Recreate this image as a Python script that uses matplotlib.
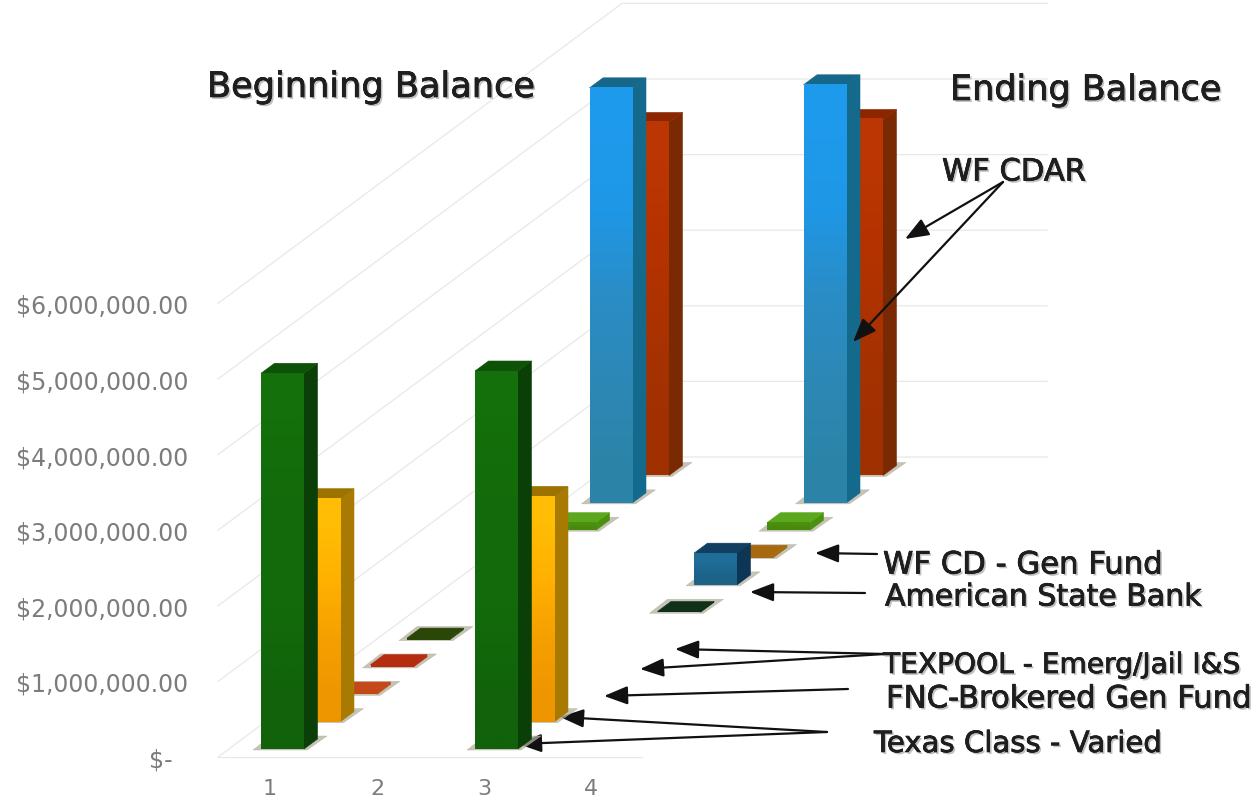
import numpy as np
import matplotlib
matplotlib.use("Agg")
import matplotlib.pyplot as plt
import matplotlib.patheffects as pe
from matplotlib.colors import to_rgb

W, H = 1260, 803
categories = [1, 2, 3, 4]
y_ticks = [0, 1e6, 2e6, 3e6, 4e6, 5e6, 6e6]
y_tick_labels = ["$-  ", "$1,000,000.00", "$2,000,000.00", "$3,000,000.00",
                 "$4,000,000.00", "$5,000,000.00", "$6,000,000.00"]

# values per series over categories 1..4 (series order runs front to back)
texas_class = [4.97e6, 0, 5.00e6, 0]
fnc_brokered = [2.95e6, 0, 2.98e6, 0]
texpool_emerg = [0.03e6, 0, 0, 0]
texpool_jail = [0.03e6, 0, 0, 0]
series_e = [0.02e6, 0, 0, 0]
series_f = [0, 0, 0.01e6, 0]
american_state = [0, 0, 0.42e6, 0]
wf_cd_gen = [0, 0, 0.03e6, 0]
series_i = [0.10e6, 0, 0.10e6, 0]
wf_cdar_a = [5.49e6, 0, 5.53e6, 0]
wf_cdar_b = [4.67e6, 0, 4.71e6, 0]
all_series = [texas_class, fnc_brokered, texpool_emerg, texpool_jail, series_e,
              series_f, american_state, wf_cd_gen, series_i, wf_cdar_a, wf_cdar_b]

# style per series: front gradient stops (top to bottom), side, top
green = (["#14700b", "#136a0a", "#136a0a", "#11620a"], "#0a3f08", "#0d5207")
orange = (["#ffbd05", "#ffb000", "#f5a000", "#ee9600"], "#a87a02", "#9c7200")
brown1 = (["#c24a12", "#c24a12"], "#c24a12", "#c4481a")
red1 = (["#b52c10", "#b52c10"], "#b52c10", "#b52c10")
dk1 = (["#2a4708", "#2a4708"], "#2a4708", "#2a4708")
dk2 = (["#10301a", "#10301a"], "#10301a", "#10301a")
navy = (["#1f6d99", "#1d6388"], "#0c3556", "#123f60")
brown2 = (["#a86a10", "#a86a10"], "#a86a10", "#a86a10")
lime = (["#4c9010", "#468a0e"], "#4c9010", "#5ba71e")
blue = (["#1e9aec", "#1f97e6", "#2a8dc6", "#2d88b6", "#2b84a8"], "#146a8c", "#15688a")
red2 = (["#bb3602", "#b43200", "#a83200", "#a03000"], "#7a2a02", "#8c2600")
styles = [green, orange, brown1, red1, dk1, dk2, navy, brown2, lime, blue, red2]

PX_X = 107.0      # px per category
PX_Y = 75.6e-6    # px per dollar
FLOOR, LEFT, RIGHT, TOP = 758, 218, 1047, 3
BAR_W, OFF_X = 43, -9
STEP_X, STEP_Y = 36.5, 27.35
BOX_X, BOX_Y = 13.5, 10
BASE_LIFT = 8
WALL_X, WALL_Y = 404, 300
GRID = "#e8e8e8"

fig = plt.figure(figsize=(W / 100, H / 100), dpi=100, facecolor="white")
ax = fig.add_axes([LEFT / W, 1 - FLOOR / H, (RIGHT - LEFT) / W, (FLOOR - TOP) / H])
ax.set_xlim(1 + (LEFT - 270) / PX_X, 1 + (RIGHT - 270) / PX_X)
ax.set_ylim(0, (FLOOR - TOP) / PX_Y)
for s in ax.spines.values():
    s.set_visible(False)
ax.patch.set_alpha(0)
ax.set_xticks(categories)
ax.set_yticks(y_ticks)
ax.set_yticklabels(y_tick_labels)
ax.tick_params(length=0, labelcolor="#7c7c7c")
ax.tick_params(axis="y", pad=21.6, labelsize=17)
ax.tick_params(axis="x", pad=15, labelsize=16)

def dx(px):
    return px / PX_X

def dy(px):
    return px / PX_Y

x_lo = 1 + (LEFT - 270) / PX_X
# walls and floor
for v in y_ticks:
    ax.plot([x_lo, x_lo + dx(WALL_X), x_lo + dx(RIGHT - LEFT)],
            [v, v + dy(WALL_Y), v + dy(WALL_Y)], color=GRID, lw=0.9, zorder=1, clip_on=False)
ax.plot([x_lo, x_lo + dx(424)], [0, 0], color=GRID, lw=0.9, zorder=1, clip_on=False)

def poly(pts, color, z, alpha=1.0):
    xs, ys = zip(*pts)
    ax.fill(xs, ys, color=color, lw=0.4, zorder=z, alpha=alpha, clip_on=False)

for si in range(len(all_series) - 1, -1, -1):
    stops, side, top = styles[si]
    for ci in range(len(categories) - 1, -1, -1):
        val = all_series[si][ci]
        if val <= 0:
            continue
        z = 10 + (len(all_series) - si) * 5 + (4 - ci)
        x0 = categories[ci] + dx(OFF_X + si * STEP_X)
        y0 = dy(BASE_LIFT + si * STEP_Y)
        x1 = x0 + dx(BAR_W)
        yt = y0 + val
        bx, by = dx(BOX_X), dy(BOX_Y)
        # floor shadow
        poly([(x0 - dx(8), y0 - dy(1)), (x1 + dx(3), y0 - dy(1)),
              (x1 + dx(23), y0 + dy(13)), (x0 + dx(10), y0 + dy(13))], "#b3af9f", z, 0.75)
        # side and top
        poly([(x1, y0), (x1 + bx, y0 + by), (x1 + bx, yt + by), (x1, yt)], side, z + 0.1)
        poly([(x0, yt), (x1, yt), (x1 + bx, yt + by), (x0 + bx, yt + by)], top, z + 0.1)
        # front with vertical gradient
        rgb = np.array([to_rgb(c) for c in stops])[:, None, :]
        ax.imshow(rgb, extent=(x0, x1, y0, yt), aspect="auto", origin="upper",
                  interpolation="bilinear", zorder=z + 0.2, clip_on=False)

ax.set_xlim(1 + (LEFT - 270) / PX_X, 1 + (RIGHT - 270) / PX_X)
ax.set_ylim(0, (FLOOR - TOP) / PX_Y)

shadow = [pe.withSimplePatchShadow(offset=(1.4, -1.4), shadow_rgbFace="#777777", alpha=0.45),
          pe.withStroke(linewidth=0.5, foreground="#1e1e1e")]

def label(txt, x, y, size):
    fig.text(x / W, 1 - y / H, txt, fontsize=size, color="#1e1e1e", ha="left",
             va="center", zorder=50, path_effects=shadow)

label("Beginning Balance", 207, 88, 25.3)
label("Ending Balance", 950, 91, 25.2)
label("WF CDAR", 942, 173, 22)
label("WF CD - Gen Fund", 883, 566, 22.1)
label("American State Bank", 885, 598, 21.6)
label("TEXPOOL - Emerg/Jail I&S", 883, 666, 20.2)
label("FNC-Brokered Gen Fund", 886, 700, 22.1)
label("Texas Class - Varied", 874, 745, 21)

arrow_list = [((1003, 183), (905, 240)), ((1003, 183), (853, 343)),
              ((877, 555), (815, 554)), ((865, 594), (750, 593)),
              ((885, 655), (675, 650)), ((885, 655), (640, 670)),
              ((848, 690), (604, 697)), ((827, 733), (560, 718)),
              ((827, 733), (518, 745))]
for a, b in arrow_list:
    ax.annotate("", xy=(b[0] / W, 1 - b[1] / H), xytext=(a[0] / W, 1 - a[1] / H),
                xycoords="figure fraction", textcoords="figure fraction", zorder=60,
                arrowprops=dict(arrowstyle="-|>,head_length=0.72,head_width=0.28", color="#111111",
                                lw=1.6, mutation_scale=20, shrinkA=0, shrinkB=0))

fig.savefig("out.png", dpi=100, facecolor="white")
